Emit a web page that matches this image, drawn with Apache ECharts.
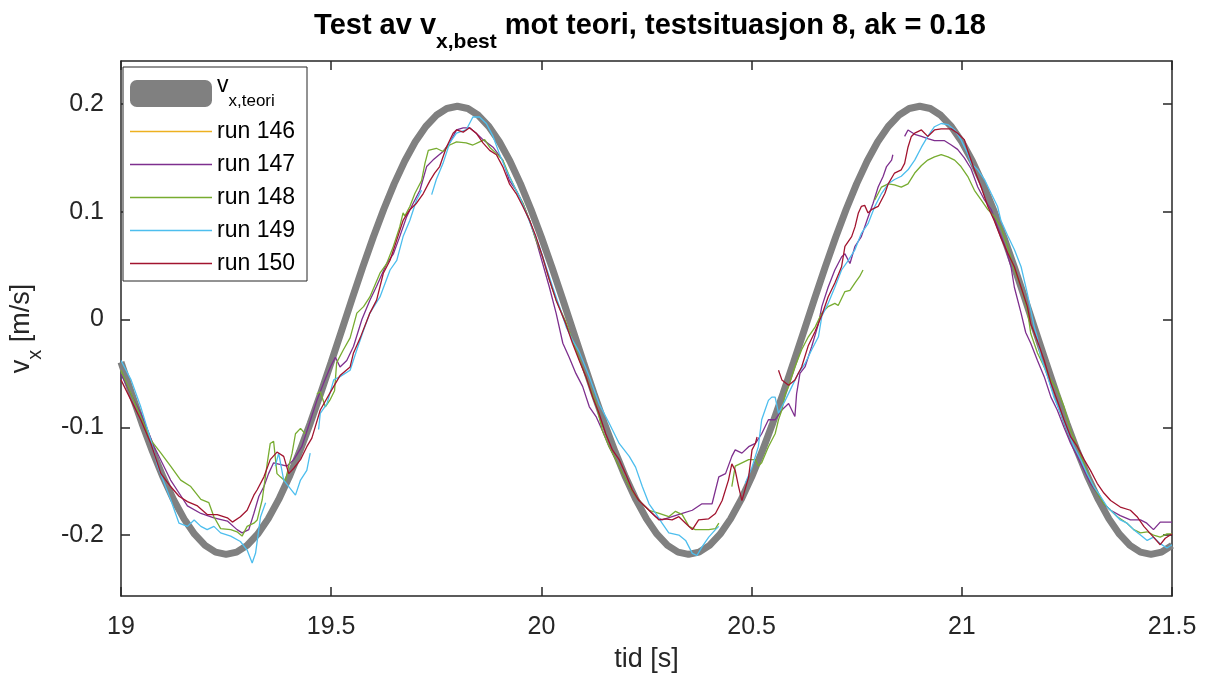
<!DOCTYPE html>
<html><head><meta charset="utf-8">
<script src="https://cdn.jsdelivr.net/npm/echarts@6/dist/echarts.min.js"></script>
<style>html,body{margin:0;padding:0;background:#fff}#c{width:1208px;height:681px}</style>
</head><body><div id="c"></div>
<script>
// ---- axis ranges and ticks ----
const xMin = 19, xMax = 21.5;
const yMin = -0.2566, yMax = 0.24;
const xTicks = [19, 19.5, 20, 20.5, 21, 21.5];
const yTicks = [-0.2, -0.1, 0, 0.1, 0.2];

// ---- theory curve v_x,teori, sampled every 0.025 s from 19.0 to 21.5 ----
const theoryStart = 19.0, theoryStep = 0.025;
const theoryV = [
 -0.0396,-0.0686,-0.0964,-0.1224,-0.1462,-0.1672,-0.1850,-0.1992,-0.2096,-0.2159,-0.2180,
 -0.2159,-0.2096,-0.1992,-0.1850,-0.1672,-0.1462,-0.1224,-0.0964,-0.0686,-0.0396,-0.0100,
 0.0196,0.0486,0.0764,0.1024,0.1262,0.1472,0.1650,0.1792,0.1896,0.1959,0.1980,
 0.1959,0.1896,0.1792,0.1650,0.1472,0.1262,0.1024,0.0764,0.0486,0.0196,-0.0100,
 -0.0396,-0.0686,-0.0964,-0.1224,-0.1462,-0.1672,-0.1850,-0.1992,-0.2096,-0.2159,-0.2180,
 -0.2159,-0.2096,-0.1992,-0.1850,-0.1672,-0.1462,-0.1224,-0.0964,-0.0686,-0.0396,-0.0100,
 0.0196,0.0486,0.0764,0.1024,0.1262,0.1472,0.1650,0.1792,0.1896,0.1959,0.1980,
 0.1959,0.1896,0.1792,0.1650,0.1472,0.1262,0.1024,0.0764,0.0486,0.0196,-0.0100,
 -0.0396,-0.0686,-0.0964,-0.1224,-0.1462,-0.1672,-0.1850,-0.1992,-0.2096,-0.2159,-0.2180,
 -0.2159,-0.2096
];

// ---- measured runs: [t (s), v_x (m/s)], null = gap ----
const run146 = [];
const run147 = [
 [19.000,-0.051],[19.047,-0.087],[19.079,-0.118],[19.118,-0.149],[19.138,-0.161],[19.158,-0.173],[19.190,-0.180],
 [19.221,-0.184],[19.253,-0.187],[19.276,-0.195],[19.288,-0.198],[19.304,-0.195],[19.316,-0.180],[19.328,-0.164],
 [19.340,-0.155],[19.351,-0.143],[19.363,-0.133],[19.395,-0.136],[19.411,-0.130],[19.430,-0.118],[19.446,-0.099],
 [19.466,-0.075],[19.482,-0.059],[19.498,-0.044],[19.510,-0.035],[19.521,-0.044],[19.537,-0.038],[19.553,-0.025],
 [19.573,0.000],[19.592,0.018],[19.608,0.031],[19.632,0.052],[19.648,0.061],[19.663,0.077],[19.679,0.095],
 [19.695,0.108],[19.711,0.120],[19.727,0.142],[19.742,0.148],[19.766,0.156],[19.782,0.164],[19.798,0.176],
 [19.814,0.178],[19.829,0.178],[19.845,0.173],[19.861,0.167],[19.885,0.160],[19.908,0.148],[19.924,0.129],
 [19.940,0.120],[19.956,0.108],[19.972,0.092],[19.987,0.074],[20.003,0.052],[20.019,0.030],[20.035,0.006],
 [20.051,-0.022],[20.066,-0.035],[20.082,-0.050],[20.098,-0.062],[20.114,-0.081],[20.130,-0.090],[20.145,-0.103],
 [20.161,-0.118],[20.177,-0.130],[20.193,-0.143],[20.209,-0.155],[20.224,-0.164],[20.240,-0.171],[20.256,-0.177],
 [20.272,-0.183],[20.287,-0.186],[20.311,-0.183],[20.335,-0.180],[20.359,-0.177],[20.382,-0.171],[20.406,-0.171],
 [20.422,-0.146],[20.438,-0.143],[20.453,-0.127],[20.461,-0.121],[20.477,-0.124],[20.493,-0.118],[20.509,-0.115],
 [20.524,-0.106],[20.540,-0.093],[20.556,-0.093],[20.572,-0.084],[20.588,-0.078],[20.603,-0.090],[20.607,-0.069],
 [20.615,-0.050],[20.627,-0.044],[20.643,-0.025],[20.659,-0.004],[20.667,0.012],[20.682,0.030],[20.698,0.046],
 [20.714,0.058],[20.722,0.061],[20.734,0.052],[20.746,0.068],[20.761,0.077],[20.777,0.095],[20.789,0.108],
 [20.801,0.123],[20.813,0.133],[20.821,0.142],[20.833,0.148],[20.836,0.153],[20.850,null],[20.864,0.170],
 [20.872,0.176],[20.888,0.172],[20.904,0.170],[20.919,0.168],[20.935,0.166],[20.959,0.166],[20.975,0.162],
 [20.990,0.158],[21.006,0.150],[21.022,0.140],[21.038,0.123],[21.054,0.111],[21.070,0.102],[21.085,0.086],
 [21.101,0.070],[21.117,0.049],[21.125,0.030],[21.141,0.006],[21.152,-0.012],[21.164,-0.022],[21.180,-0.038],
 [21.196,-0.053],[21.212,-0.072],[21.227,-0.084],[21.243,-0.100],[21.259,-0.115],[21.275,-0.127],[21.291,-0.140],
 [21.306,-0.152],[21.322,-0.161],[21.338,-0.171],[21.354,-0.177],[21.377,-0.182],[21.401,-0.186],[21.425,-0.186],
 [21.440,-0.189],[21.456,-0.195],[21.472,-0.188],[21.500,-0.188]
];
const run148 = [
 [19.000,-0.047],[19.047,-0.090],[19.071,-0.112],[19.095,-0.124],[19.118,-0.136],[19.142,-0.149],[19.166,-0.155],
 [19.190,-0.167],[19.209,-0.170],[19.221,-0.183],[19.237,-0.194],[19.261,-0.195],[19.276,-0.197],[19.288,-0.201],
 [19.300,-0.192],[19.316,-0.189],[19.324,-0.186],[19.336,-0.167],[19.348,-0.133],[19.355,-0.115],[19.363,-0.113],
 [19.371,-0.143],[19.379,-0.146],[19.391,-0.150],[19.399,-0.136],[19.407,-0.124],[19.415,-0.106],[19.427,-0.101],
 [19.438,-0.106],[19.450,null],[19.466,-0.069],[19.474,-0.067],[19.486,-0.081],[19.498,-0.074],[19.508,-0.066],
 [19.513,-0.040],[19.529,-0.028],[19.545,-0.017],[19.561,0.006],[19.577,0.012],[19.592,0.021],[19.616,0.043],
 [19.632,0.052],[19.648,0.068],[19.663,0.086],[19.671,0.099],[19.675,0.096],[19.687,0.105],[19.699,0.117],
 [19.707,0.123],[19.715,0.129],[19.723,0.145],[19.731,0.157],[19.750,0.159],[19.766,0.156],[19.782,0.162],
 [19.798,0.165],[19.821,0.164],[19.837,0.162],[19.853,0.165],[19.865,0.167],[19.877,0.160],[19.893,0.154],
 [19.908,0.148],[19.924,0.133],[19.940,0.120],[19.956,0.108],[19.972,0.092],[19.987,0.074],[20.003,0.058],
 [20.019,0.037],[20.035,0.018],[20.058,-0.002],[20.082,-0.028],[20.106,-0.053],[20.130,-0.078],[20.145,-0.103],
 [20.161,-0.118],[20.177,-0.130],[20.193,-0.143],[20.209,-0.155],[20.224,-0.164],[20.240,-0.171],[20.256,-0.177],
 [20.280,-0.180],[20.303,-0.183],[20.319,-0.178],[20.335,-0.181],[20.351,-0.192],[20.366,-0.195],[20.382,-0.195],
 [20.398,-0.195],[20.414,-0.194],[20.422,-0.189],[20.438,null],[20.453,-0.155],[20.461,-0.136],[20.477,-0.133],
 [20.493,-0.130],[20.509,-0.130],[20.516,-0.136],[20.524,-0.133],[20.540,-0.118],[20.556,-0.106],[20.564,-0.093],
 [20.572,-0.084],[20.580,-0.069],[20.588,-0.062],[20.603,-0.044],[20.619,-0.028],[20.635,-0.016],[20.651,-0.007],
 [20.667,0.006],[20.682,0.012],[20.698,0.015],[20.706,0.013],[20.722,0.026],[20.734,0.027],[20.746,0.034],
 [20.757,0.040],[20.765,0.046],[20.780,null],[20.793,0.111],[20.809,0.123],[20.825,0.126],[20.840,0.125],
 [20.856,0.123],[20.872,0.126],[20.888,0.136],[20.904,0.143],[20.919,0.148],[20.935,0.151],[20.951,0.153],
 [20.967,0.151],[20.983,0.148],[20.998,0.142],[21.014,0.133],[21.030,0.120],[21.046,0.111],[21.062,0.102],
 [21.077,0.096],[21.093,0.086],[21.109,0.068],[21.125,0.046],[21.141,0.030],[21.156,0.009],[21.164,-0.013],
 [21.180,-0.031],[21.196,-0.044],[21.212,-0.056],[21.227,-0.065],[21.243,-0.081],[21.259,-0.103],[21.275,-0.118],
 [21.291,-0.134],[21.306,-0.149],[21.322,-0.161],[21.338,-0.171],[21.354,-0.177],[21.370,-0.183],[21.393,-0.189],
 [21.409,-0.195],[21.425,-0.198],[21.441,-0.197],[21.456,-0.200],[21.472,-0.202],[21.488,-0.199],[21.500,-0.199]
];
const run149 = [
 [19.000,-0.038],[19.024,-0.056],[19.047,-0.081],[19.071,-0.112],[19.087,-0.136],[19.103,-0.152],[19.118,-0.167],
 [19.138,-0.189],[19.158,-0.192],[19.174,-0.186],[19.190,-0.192],[19.205,-0.195],[19.221,-0.192],[19.237,-0.198],
 [19.261,-0.201],[19.284,-0.206],[19.300,-0.214],[19.312,-0.226],[19.320,-0.217],[19.332,-0.183],[19.344,-0.170],
 [19.355,null],[19.367,-0.136],[19.375,-0.124],[19.387,-0.149],[19.399,-0.155],[19.415,-0.163],[19.427,-0.149],
 [19.442,-0.140],[19.450,-0.124],[19.460,null],[19.470,-0.102],[19.474,-0.087],[19.490,-0.078],[19.506,-0.056],
 [19.521,-0.053],[19.545,-0.047],[19.561,-0.028],[19.577,-0.010],[19.592,0.006],[19.616,0.021],[19.640,0.046],
 [19.656,0.055],[19.671,0.077],[19.687,0.092],[19.703,0.111],[19.715,0.120],[19.727,null],[19.739,0.116],
 [19.750,0.130],[19.766,0.145],[19.782,0.164],[19.798,0.173],[19.821,0.176],[19.837,0.188],[19.853,0.188],
 [19.869,0.182],[19.885,0.170],[19.900,0.154],[19.916,0.139],[19.932,0.126],[19.948,0.114],[19.964,0.099],
 [19.980,0.083],[19.995,0.068],[20.011,0.049],[20.027,0.030],[20.043,0.012],[20.059,-0.007],[20.074,-0.019],
 [20.090,-0.030],[20.114,-0.053],[20.137,-0.078],[20.161,-0.096],[20.185,-0.115],[20.209,-0.127],[20.224,-0.137],
 [20.240,-0.155],[20.256,-0.171],[20.272,-0.180],[20.287,-0.189],[20.303,-0.198],[20.327,-0.200],[20.343,-0.205],
 [20.359,-0.217],[20.370,-0.219],[20.382,-0.211],[20.398,-0.202],[20.414,-0.195],[20.422,-0.192],[20.440,null],
 [20.485,-0.152],[20.501,-0.137],[20.516,-0.118],[20.524,-0.093],[20.532,-0.084],[20.540,-0.075],[20.548,-0.072],
 [20.556,-0.072],[20.564,-0.087],[20.580,-0.075],[20.596,-0.062],[20.611,-0.050],[20.627,-0.041],[20.643,-0.028],
 [20.659,-0.016],[20.667,0.003],[20.682,0.015],[20.698,0.030],[20.714,0.046],[20.730,0.055],[20.746,0.065],
 [20.761,0.080],[20.777,0.089],[20.793,0.105],[20.809,0.117],[20.825,0.126],[20.840,0.130],[20.856,0.133],
 [20.872,0.139],[20.888,0.148],[20.904,0.160],[20.919,0.170],[20.935,0.179],[20.951,0.182],[20.967,0.181],
 [20.983,0.176],[20.998,0.167],[21.014,0.154],[21.022,0.145],[21.038,0.139],[21.054,0.130],[21.070,0.117],
 [21.085,0.105],[21.093,0.092],[21.109,0.078],[21.125,0.065],[21.141,0.049],[21.156,0.024],[21.172,-0.006],
 [21.180,-0.017],[21.188,-0.035],[21.204,-0.053],[21.219,-0.072],[21.235,-0.087],[21.251,-0.103],[21.267,-0.118],
 [21.283,-0.130],[21.298,-0.143],[21.314,-0.155],[21.330,-0.164],[21.346,-0.174],[21.362,-0.180],[21.377,-0.186],
 [21.393,-0.189],[21.409,-0.195],[21.425,-0.200],[21.441,-0.205],[21.456,-0.202],[21.472,-0.208],[21.488,-0.212],
 [21.500,-0.209]
];
const run150 = [
 [19.000,-0.056],[19.024,-0.075],[19.047,-0.093],[19.071,-0.115],[19.095,-0.143],[19.118,-0.155],[19.138,-0.164],
 [19.158,-0.169],[19.182,-0.173],[19.205,-0.181],[19.229,-0.181],[19.253,-0.184],[19.265,-0.188],[19.284,-0.183],
 [19.300,-0.177],[19.316,-0.163],[19.324,-0.158],[19.340,-0.146],[19.355,-0.130],[19.371,-0.123],[19.387,-0.127],
 [19.399,-0.143],[19.411,-0.138],[19.427,-0.130],[19.442,-0.118],[19.454,-0.110],[19.474,-0.084],[19.506,-0.062],
 [19.521,-0.052],[19.545,-0.044],[19.553,-0.031],[19.569,-0.017],[19.592,0.006],[19.608,0.018],[19.624,0.043],
 [19.640,0.055],[19.656,0.074],[19.671,0.092],[19.687,0.102],[19.703,0.108],[19.719,0.117],[19.735,0.129],
 [19.746,0.136],[19.758,0.142],[19.774,0.160],[19.790,0.173],[19.798,0.176],[19.814,0.174],[19.829,0.178],
 [19.845,0.173],[19.861,0.164],[19.877,0.157],[19.893,0.153],[19.908,0.142],[19.924,0.126],[19.940,0.117],
 [19.956,0.105],[19.972,0.092],[19.987,0.077],[20.003,0.058],[20.019,0.037],[20.035,0.018],[20.058,-0.004],
 [20.074,-0.022],[20.090,-0.038],[20.106,-0.053],[20.122,-0.072],[20.137,-0.087],[20.153,-0.106],[20.169,-0.121],
 [20.185,-0.130],[20.200,-0.143],[20.216,-0.158],[20.232,-0.168],[20.248,-0.174],[20.264,-0.180],[20.280,-0.186],
 [20.295,-0.185],[20.311,-0.186],[20.327,-0.183],[20.343,-0.189],[20.359,-0.195],[20.374,-0.186],[20.398,-0.185],
 [20.414,-0.180],[20.430,-0.168],[20.445,-0.149],[20.453,-0.134],[20.461,-0.140],[20.469,-0.155],[20.477,-0.168],
 [20.493,-0.146],[20.501,-0.121],[20.509,-0.115],[20.513,-0.109],[20.540,null],[20.564,-0.047],[20.572,-0.056],
 [20.588,-0.061],[20.603,-0.056],[20.619,-0.044],[20.635,-0.024],[20.651,-0.011],[20.667,0.004],[20.682,0.021],
 [20.698,0.034],[20.714,0.049],[20.722,0.068],[20.738,0.077],[20.746,0.086],[20.754,0.099],[20.761,0.105],
 [20.769,0.106],[20.777,0.099],[20.785,0.102],[20.801,0.105],[20.817,0.117],[20.825,0.126],[20.840,0.136],
 [20.856,0.139],[20.864,0.145],[20.872,0.160],[20.880,0.170],[20.888,0.173],[20.904,0.176],[20.919,0.170],
 [20.935,0.176],[20.951,0.177],[20.975,0.177],[20.990,0.173],[21.006,0.167],[21.014,0.157],[21.030,0.139],
 [21.046,0.123],[21.062,0.105],[21.077,0.092],[21.093,0.076],[21.109,0.062],[21.125,0.049],[21.141,0.030],
 [21.156,0.012],[21.164,-0.004],[21.180,-0.020],[21.196,-0.038],[21.212,-0.059],[21.227,-0.075],[21.243,-0.093],
 [21.259,-0.109],[21.275,-0.118],[21.291,-0.130],[21.306,-0.140],[21.322,-0.152],[21.338,-0.161],[21.354,-0.168],
 [21.377,-0.174],[21.401,-0.177],[21.417,-0.183],[21.433,-0.192],[21.456,-0.202],[21.472,-0.209],[21.484,-0.203],
 [21.496,-0.200],[21.500,-0.199]
];

const runNames = ['run 146', 'run 147', 'run 148', 'run 149', 'run 150'];
const runData = [run146, run147, run148, run149, run150];
const runColors = ['#EDB120', '#7E2F8E', '#77AC30', '#4DBEEE', '#A2142F'];
const theoryName = 'vx,teori';
const theoryColor = '#808080';

const FONT = '"Liberation Sans", Arial, Helvetica, sans-serif';
const AX = '#262626';

const theoryData = theoryV.map((v, i) => [theoryStart + i * theoryStep, v]);

const series = [{
  name: theoryName, type: 'line', data: theoryData, showSymbol: false, symbol: 'none',
  lineStyle: { color: theoryColor, width: 7 }, itemStyle: { color: theoryColor },
  animation: false, z: 2
}];
runNames.forEach((n, i) => series.push({
  name: n, type: 'line', data: runData[i], showSymbol: false, symbol: 'none', connectNulls: false,
  lineStyle: { color: runColors[i], width: 1.3 }, itemStyle: { color: runColors[i] },
  animation: false, z: 3
}));

const lineIcon = 'path://M0,0H82V1.5H0Z';
const legendData = [{ name: theoryName, icon: 'roundRect' }].concat(runNames.map(n => ({ name: n, icon: lineIcon })));

const axisLine = { show: true, onZero: false, lineStyle: { color: AX, width: 1.5 } };

const option = {
  backgroundColor: '#ffffff',
  animation: false,
  title: {
    text: '{n|Test av v}{s|x,best}{n| mot teori, testsituasjon 8, ak = 0.18}',
    left: 650, top: 11, textAlign: 'center', padding: 0,
    textStyle: {
      fontFamily: FONT, color: '#000',
      rich: {
        n: { fontSize: 29, fontWeight: 'bold', fontFamily: FONT, color: '#000', padding: [0, 0, 17, 0] },
        s: { fontSize: 21, fontWeight: 'bold', fontFamily: FONT, color: '#000', padding: [17, 0, 0, 0] }
      }
    }
  },
  grid: { left: 117, right: 36, top: 61, bottom: 85 },
  legend: {
    orient: 'vertical', left: 123, top: 67,
    padding: [7, 12, 6, 7], itemGap: 10, itemWidth: 82, itemHeight: 27,
    backgroundColor: '#ffffff', borderColor: AX, borderWidth: 1, borderRadius: 0,
    data: legendData,
    formatter: name => name === theoryName ? '{n|v}{s|x,teori}' : name,
    textStyle: {
      fontFamily: FONT, fontSize: 23, color: '#000',
      rich: {
        n: { fontSize: 23, fontFamily: FONT, color: '#000', padding: [0, 0, 16, 0] },
        s: { fontSize: 17, fontFamily: FONT, color: '#000', padding: [16, 0, 0, 0] }
      }
    }
  },
  xAxis: [
    {
      type: 'value', min: xMin, max: xMax, position: 'bottom', axisLine: axisLine, splitLine: { show: false },
      axisTick: { show: true, inside: true, length: 9, customValues: xTicks, lineStyle: { color: AX, width: 1.5 } },
      axisLabel: { show: true, customValues: xTicks, color: AX, fontSize: 25, fontFamily: FONT, margin: 19 },
      name: 'tid [s]', nameLocation: 'middle', nameGap: 50,
      nameTextStyle: { color: AX, fontSize: 27, fontFamily: FONT }
    },
    {
      type: 'value', min: xMin, max: xMax, position: 'top', axisLine: axisLine, splitLine: { show: false },
      axisTick: { show: true, inside: true, length: 9, customValues: xTicks, lineStyle: { color: AX, width: 1.5 } },
      axisLabel: { show: false }
    }
  ],
  yAxis: [
    {
      type: 'value', min: yMin, max: yMax, position: 'left', axisLine: axisLine, splitLine: { show: false },
      axisTick: { show: true, inside: true, length: 9, customValues: yTicks, lineStyle: { color: AX, width: 1.5 } },
      axisLabel: { show: true, customValues: yTicks, color: AX, fontSize: 25, fontFamily: FONT, margin: 17 },
      name: '{n|v}{s|x}{n| [m/s]}', nameLocation: 'middle', nameGap: 72, nameRotate: 90,
      nameTextStyle: {
        color: AX, fontSize: 27, fontFamily: FONT,
        rich: {
          n: { fontSize: 27, fontFamily: FONT, color: AX, padding: [0, 0, 14, 0] },
          s: { fontSize: 20, fontFamily: FONT, color: AX, padding: [14, 0, 0, 0] }
        }
      }
    },
    {
      type: 'value', min: yMin, max: yMax, position: 'right', axisLine: axisLine, splitLine: { show: false },
      axisTick: { show: true, inside: true, length: 9, customValues: yTicks, lineStyle: { color: AX, width: 1.5 } },
      axisLabel: { show: false }
    }
  ],
  series: series
};

const chart = echarts.init(document.getElementById('c'), null, { renderer: 'canvas', width: 1208, height: 681 });
chart.setOption(option);
</script></body></html>
